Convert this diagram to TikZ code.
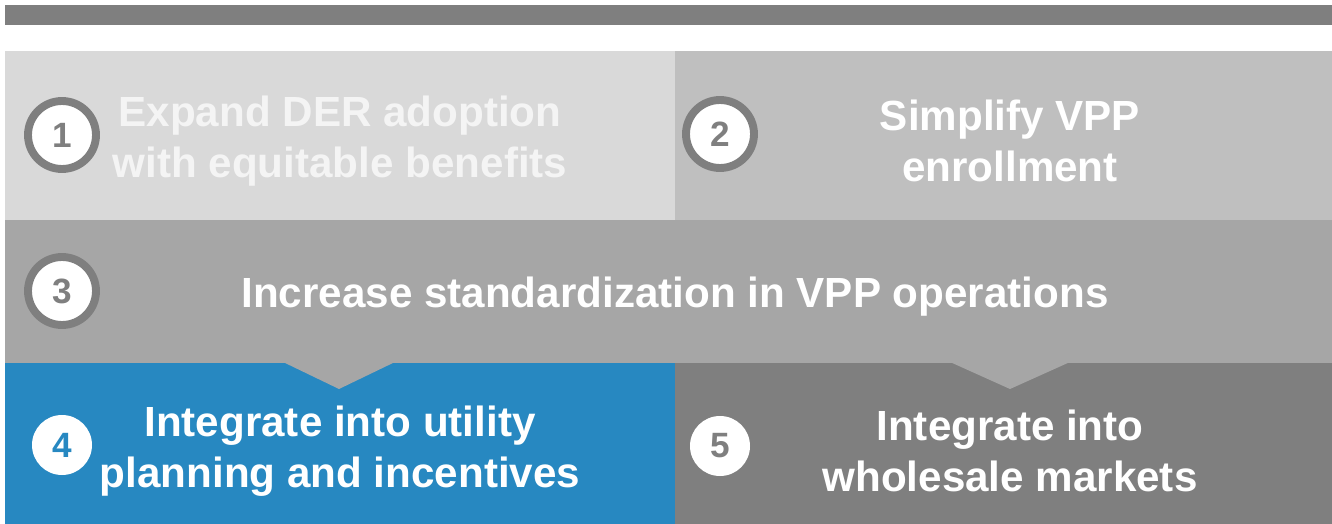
\documentclass[tikz,border=0pt]{standalone}
\usepackage{fontspec}
\setmainfont{Liberation Sans}
\definecolor{barGray}{HTML}{7F7F7F}
\definecolor{paleGray}{HTML}{D9D9D9}
\definecolor{lightGray}{HTML}{BFBFBF}
\definecolor{midGray}{HTML}{A6A6A6}
\definecolor{stepBlue}{HTML}{2788C1}
\definecolor{softWhite}{HTML}{F4F4F4}
\begin{document}
\begin{tikzpicture}[x=0.02cm,y=-0.02cm,line join=round,
	label/.style={text=white,align=center,font=\bfseries\fontsize{24}{29}\selectfont},
	ring/.style={circle,fill=white,draw=barGray,line width=4.5pt,minimum size=68*0.02cm,inner sep=0pt,text=barGray,font=\bfseries\fontsize{20}{24}\selectfont},
	disc/.style={circle,fill=white,minimum size=60*0.02cm,inner sep=0pt,font=\bfseries\fontsize{20}{24}\selectfont}]
			\useasboundingbox (0,0) rectangle (1332,524);
			\path
			(5,5) coordinate (T1)
			(1332,25) coordinate (T2)
			(5,51) coordinate (A)
			(675,220) coordinate (B)
			(1332,51) coordinate (C)
			(5,220) coordinate (D)
			(1332,363) coordinate (E)
			(5,363) coordinate (F)
			(675,524) coordinate (G)
			(1332,524) coordinate (H)
			(675,363) coordinate (M)
			(675,51) coordinate (N)
			;
			\fill[barGray] (T1) rectangle (T2);
			\fill[paleGray] (A) rectangle (B);
			\fill[lightGray] (N) rectangle (C |- B);
			\fill[midGray] (D) rectangle (E);
			\fill[stepBlue] (F) rectangle (G);
			\fill[barGray] (M) rectangle (H);
			% notches
			\foreach \a/\b in {283/395,950/1070}
			\fill[midGray] (\a,362) -- ({(\a+\b)/2},389) -- (\b,362) -- cycle;
			\node[ring] (n1) at (62,135) {1};
			\node[ring] (n2) at (720,134) {2};
			\node[ring] (n3) at (62,291) {3};
			\node[disc,text=stepBlue] (n4) at (62,445) {4};
			\node[disc,text=barGray] (n5) at (720,446) {5};
			\node[label,text=softWhite] (t1) at (340,141) {Expand DER adoption\\with equitable benefits};
			\node[label] (t2) at (1010,141) {Simplify VPP\\enrollment};
			\node[label] (t3) at (675,297) {Increase standardization in VPP operations};
			\node[label] (t4) at (340,451) {Integrate into utility\\planning and incentives};
			\node[label] (t5) at (1010,451) {Integrate into\\wholesale markets};
		\end{tikzpicture}
\end{document}
